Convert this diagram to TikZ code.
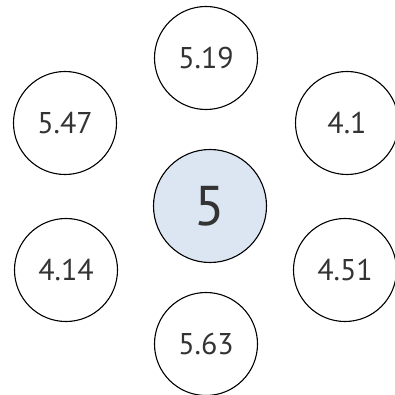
\documentclass[tikz,border=0pt]{standalone}
\usepackage{fontspec}
\setmainfont{PT Sans}
\definecolor{cfill}{HTML}{DCE6F2}
\definecolor{ctext}{HTML}{333333}
\begin{document}
\begin{tikzpicture}[x=1pt,y=-1pt,
  small/.style={circle,draw=black,line width=1.1pt,minimum size=103pt,inner sep=0pt,text=ctext,font=\fontsize{30}{30}\selectfont},
  big/.style={circle,draw=black,line width=1.1pt,fill=cfill,minimum size=113pt,inner sep=0pt,text=ctext,font=\fontsize{56}{56}\selectfont}]
\useasboundingbox (0,0) rectangle (394,395);
\node[big] (c) at (210,206) {5};
\node[small] (t) at (206,58) {5.19};
\node[small] (tl) at (65,123) {5.47};
\node[small] (tr) at (347,123) {4.1};
\node[small] (bl) at (66,270) {4.14};
\node[small] (br) at (345,270) {4.51};
\node[small] (b) at (206,344) {5.63};
\end{tikzpicture}
\end{document}
